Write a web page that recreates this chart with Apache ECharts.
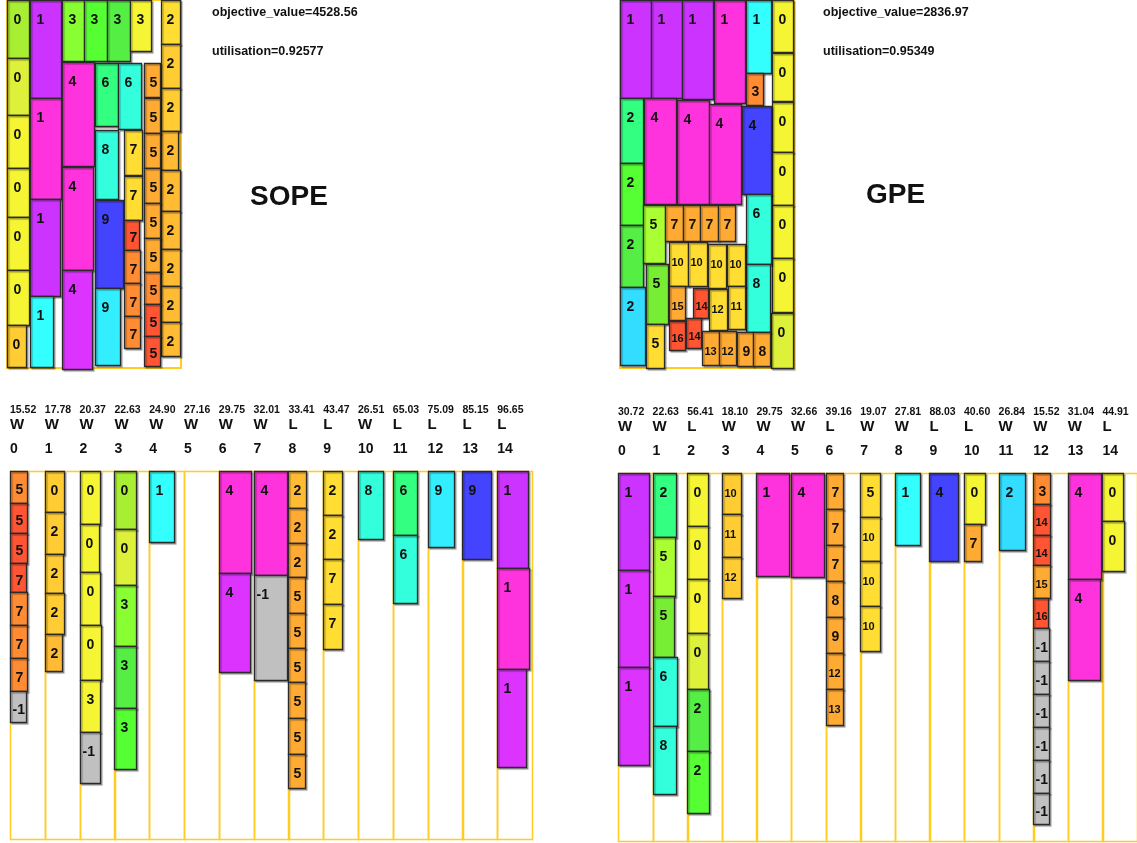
<!DOCTYPE html>
<html>
<head>
<meta charset="utf-8">
<script src="https://cdn.jsdelivr.net/npm/echarts@6/dist/echarts.min.js"></script>
<style>
html,body{margin:0;padding:0;background:#fff;}
#chart{width:1137px;height:843px;}
</style>
</head>
<body>
<div id="chart"></div>
<script>
// ---------- solution summaries ----------
const sopeStats = ['objective_value=4528.56', 'utilisation=0.92577'];
const gpeStats  = ['objective_value=2836.97', 'utilisation=0.95349'];
const methodNames = ['SOPE', 'GPE'];

// ---------- bin size (layout units) ----------
const binW = 174;
const binH = 368;

// ---------- packed items: [x, y, width, height, item id, colour key] ----------
const sopeBoxes = [
  [0,0,22,58,'0','lime'], [0,58,22,57,'0','chart'], [0,115,22,53,'0','yellow'],
  [0,168,22,49,'0','yellow'], [0,217,22,53,'0','yellow'], [0,270,22,55,'0','yellow'],
  [0,325,19,42,'0','amber'],
  [23,0,31,98,'1','purple'], [23,98,31,101,'1','magenta'], [23,199,30,97,'1','purple'],
  [23,296,23,71,'1','cyan'],
  [55,0,22,61,'3','green1'], [77,0,23,61,'3','green2'], [100,0,23,61,'3','green3'],
  [123,0,21,51,'3','yellow'],
  [154,0,19,44,'2','gold'], [154,44,19,44,'2','amber'], [154,88,19,43,'2','amber'],
  [154,131,17,39,'2','tang'], [154,170,19,41,'2','tang'], [154,211,19,38,'2','tang'],
  [154,249,19,37,'2','tang'], [154,286,19,36,'2','tang'], [154,322,19,34,'2','tang'],
  [55,62,32,104,'4','magenta'], [55,167,31,103,'4','magenta'], [55,270,30,99,'4','violet'],
  [88,63,23,63,'6','mint'], [111,63,23,66,'6','aqua'],
  [88,130,23,69,'8','aqua'],
  [88,200,28,88,'9','blue'], [88,288,25,77,'9','sky'],
  [117,130,18,45,'7','gold'], [117,176,18,44,'7','gold'], [117,220,15,30,'7','red'],
  [117,250,16,33,'7','dorange'], [117,283,16,33,'7','dorange'], [117,316,16,32,'7','dorange'],
  [137,63,16,34,'5','orange'], [137,98,16,35,'5','orange'], [137,133,16,35,'5','orange'],
  [137,168,16,35,'5','orange'], [137,203,16,35,'5','orange'], [137,238,16,34,'5','orange'],
  [137,272,16,32,'5','dorange'], [137,304,16,32,'5','red'], [137,336,16,30,'5','red']
];

const gpeBoxes = [
  [0,0,31,98,'1','purple'], [31,0,31,98,'1','purple'], [62,0,31,99,'1','purple'],
  [94,0,31,103,'1','magenta'], [126,0,25,73,'1','cyan'], [126,73,17,32,'3','dorange'],
  [152,0,21,52,'0','yellow'], [152,53,21,48,'0','yellow'], [152,102,21,50,'0','yellow'],
  [152,152,21,53,'0','yellow'], [152,205,21,53,'0','yellow'], [152,258,21,54,'0','yellow'],
  [151,313,22,55,'0','chart'],
  [0,98,23,65,'2','mint'], [0,163,23,62,'2','green2'], [0,225,23,62,'2','green3'],
  [0,287,25,78,'2','azure'],
  [24,98,32,106,'4','magenta'], [57,100,32,104,'4','magenta'], [89,104,32,100,'4','magenta'],
  [122,106,29,88,'4','blue'],
  [23,205,22,58,'5','limeg'], [26,264,22,60,'5','grass'], [26,324,18,44,'5','gold'],
  [45,205,18,36,'7','orange'], [63,205,17,36,'7','orange'], [80,205,18,36,'7','orange'],
  [98,205,17,36,'7','orange'],
  [126,194,25,70,'6','aqua'], [126,264,24,68,'8','aqua'],
  [49,242,19,44,'10','gold'], [68,242,19,44,'10','gold'], [88,244,18,44,'10','gold'],
  [107,244,18,42,'10','gold'],
  [49,286,16,34,'15','orange'], [73,288,15,30,'14','red'], [89,289,18,41,'12','gold'],
  [108,286,17,43,'11','gold'],
  [49,321,16,29,'16','red'], [66,318,15,30,'14','red'],
  [82,331,17,34,'13','orange'], [99,331,17,34,'12','orange'],
  [117,332,16,34,'9','orange'], [133,332,17,34,'8','orange']
];

// ---------- per-machine sequences: [item id, height, width, colour key] ----------
const sopeStacks = [
  [['5',32,17,'dorange'],['5',30,17,'red'],['5',30,17,'red'],['7',29,16,'red'],
   ['7',33,17,'dorange'],['7',33,17,'dorange'],['7',33,17,'dorange'],['-1',31,16,'grey']],
  [['0',41,19,'amber'],['2',42,19,'amber'],['2',39,18,'amber'],['2',41,19,'amber'],['2',37,17,'tang']],
  [['0',53,20,'yellow'],['0',48,19,'yellow'],['0',53,20,'yellow'],['0',55,21,'yellow'],
   ['3',52,20,'yellow'],['-1',51,20,'grey']],
  [['0',58,22,'lime'],['0',56,22,'chart'],['3',61,22,'green1'],['3',62,22,'green3'],['3',61,22,'green2']],
  [['1',71,25,'cyan']],
  [],
  [['4',102,32,'magenta'],['4',99,31,'violet']],
  [['4',104,33,'magenta'],['-1',105,33,'grey']],
  [['2',37,18,'tang'],['2',35,18,'orange'],['2',34,18,'orange'],['5',36,17,'orange'],
   ['5',35,17,'orange'],['5',34,17,'orange'],['5',36,17,'orange'],['5',36,17,'orange'],['5',34,17,'orange']],
  [['2',44,19,'gold'],['2',44,19,'gold'],['7',45,19,'gold'],['7',45,19,'gold']],
  [['8',68,25,'aqua']],
  [['6',64,24,'mint'],['6',68,24,'aqua']],
  [['9',76,26,'sky']],
  [['9',88,29,'blue']],
  [['1',97,31,'purple'],['1',101,32,'magenta'],['1',98,29,'violet']]
];

const gpeStacks = [
  [['1',97,31,'purple'],['1',97,31,'violet'],['1',98,31,'violet']],
  [['2',64,23,'mint'],['5',59,22,'limeg'],['5',61,21,'grass'],['6',69,24,'aqua'],['8',68,23,'aqua']],
  [['0',53,21,'yellow'],['0',53,21,'yellow'],['0',54,21,'yellow'],['0',56,21,'chart'],
   ['2',62,22,'green3'],['2',62,22,'green2']],
  [['10',41,19,'amber'],['11',43,19,'amber'],['12',41,19,'amber']],
  [['1',103,33,'magenta']],
  [['4',104,33,'magenta']],
  [['7',36,17,'orange'],['7',36,17,'orange'],['7',36,17,'orange'],['8',36,17,'orange'],
   ['9',36,17,'orange'],['12',36,17,'orange'],['13',36,17,'orange']],
  [['5',44,20,'gold'],['10',44,20,'gold'],['10',45,20,'gold'],['10',45,20,'gold']],
  [['1',72,25,'cyan']],
  [['4',88,29,'blue']],
  [['0',51,21,'yellow'],['7',37,17,'orange']],
  [['2',77,26,'azure']],
  [['3',31,17,'dorange'],['14',31,17,'red'],['14',30,17,'red'],['15',33,17,'orange'],
   ['16',30,15,'red'],['-1',33,16,'grey'],['-1',33,16,'grey'],['-1',33,16,'grey'],
   ['-1',33,16,'grey'],['-1',33,16,'grey'],['-1',31,16,'grey']],
  [['4',106,33,'magenta'],['4',101,32,'magenta']],
  [['0',48,21,'yellow'],['0',50,22,'yellow']]
];

// ---------- machine headers ----------
const sopeTimes = ['15.52','17.78','20.37','22.63','24.90','27.16','29.75','32.01','33.41','43.47','26.51','65.03','75.09','85.15','96.65'];
const sopeFlags = ['W','W','W','W','W','W','W','W','L','L','W','L','L','L','L'];
const gpeTimes  = ['30.72','22.63','56.41','18.10','29.75','32.66','39.16','19.07','27.81','88.03','40.60','26.84','15.52','31.04','44.91'];
const gpeFlags  = ['W','W','L','W','W','W','L','W','W','L','L','W','W','W','L'];

// ---------- styling ----------
const palette = {
  lime:'#a8ee33', chart:'#ddf03a', yellow:'#f5f533', amber:'#ffcc33', gold:'#ffdd33',
  tang:'#ffbb33', orange:'#ffaa33', dorange:'#ff8c33', red:'#ff5533',
  purple:'#cc33ff', violet:'#dd33ff', magenta:'#ff33dd',
  cyan:'#33ffff', sky:'#33eeff', azure:'#33ddff', aqua:'#33ffdd', mint:'#33ff80',
  green1:'#88ff33', green2:'#55ff33', green3:'#55ee44', limeg:'#aaff33', grass:'#77ee33',
  blue:'#4444ff', grey:'#c0c0c0'
};
const FONT = '"Liberation Sans", Arial, sans-serif';
const frameColor = '#ffcc22';
const colW = 34.8;           // width of one machine column, in layout units
const nCols = sopeTimes.length;

// flatten a set of machine sequences into boxes stacked from the top of each column
function stackBoxes(stacks) {
  const out = [];
  stacks.forEach((col, i) => {
    let y = 0;
    col.forEach(([id, h, w, key]) => {
      out.push([i * colW, y, w, h, id, key]);
      y += h;
    });
  });
  return out;
}

function boxSeries(gridIdx, boxes) {
  return {
    type: 'custom', xAxisIndex: gridIdx, yAxisIndex: gridIdx, z: 3,
    data: boxes.map(b => [b[0], b[1], b[2], b[3]]),
    renderItem: (params, api) => {
      const b = boxes[params.dataIndex];
      const p0 = api.coord([b[0], b[1]]);
      const p1 = api.coord([b[0] + b[2], b[1] + b[3]]);
      const x = Math.round(p0[0]) + 0.5, y = Math.round(p0[1]) + 0.5;
      const w = Math.round(p1[0] - p0[0]), h = Math.round(p1[1] - p0[1]);
      const id = b[4];
      const small = id.length > 1 && id !== '-1';
      const tx = x + (small || id === '-1' ? 2 : (w < 20 ? 5 : 6));
      const ty = y + Math.min(20, h / 2 + 3);
      return {
        type: 'group',
        children: [
          { type: 'rect', shape: { x, y, width: w, height: h },
            style: { fill: palette[b[5]], stroke: '#2a2a2a', lineWidth: 1.3,
                     shadowColor: 'rgba(0,0,0,0.28)', shadowOffsetX: 1.5, shadowOffsetY: 1.5, shadowBlur: 1 } },
          { type: 'text', x: tx, y: ty,
            style: { text: id, fill: '#111', font: 'bold ' + (small ? 11 : 14) + 'px ' + FONT,
                     textAlign: 'left', textVerticalAlign: 'middle', align: 'left', verticalAlign: 'middle' } }
        ]
      };
    }
  };
}

function binFrameSeries(gridIdx) {
  return {
    type: 'custom', xAxisIndex: gridIdx, yAxisIndex: gridIdx, z: 1, silent: true,
    data: [[0, 0]],
    renderItem: (params, api) => {
      const p0 = api.coord([0, 0]), p1 = api.coord([binW, binH]);
      return { type: 'rect', shape: { x: p0[0], y: p0[1], width: p1[0] - p0[0], height: p1[1] - p0[1] },
               style: { fill: 'none', stroke: frameColor, lineWidth: 2 } };
    }
  };
}

function columnFrameSeries(gridIdx) {
  const idx = Array.from({ length: nCols }, (_, i) => i);
  return {
    type: 'custom', xAxisIndex: gridIdx, yAxisIndex: gridIdx, z: 1, silent: true,
    data: idx.map(i => [i * colW, 0]),
    renderItem: (params, api) => {
      const i = params.dataIndex;
      const p0 = api.coord([i * colW, 0]), p1 = api.coord([(i + 1) * colW, binH]);
      return { type: 'rect', shape: { x: Math.round(p0[0]) + 0.5, y: Math.round(p0[1]) + 0.5,
                                      width: Math.round(p1[0] - p0[0]), height: Math.round(p1[1] - p0[1]) },
               style: { fill: 'none', stroke: frameColor, lineWidth: 1.5 } };
    }
  };
}

function headerSeries(gridIdx, times, flags) {
  return {
    type: 'custom', xAxisIndex: gridIdx, yAxisIndex: gridIdx, z: 2, silent: true,
    data: times.map((t, i) => [i * colW, 0]),
    renderItem: (params, api) => {
      const i = params.dataIndex;
      const p = api.coord([i * colW, 0]);
      const mk = (text, dy, size) => ({
        type: 'text', x: p[0], y: p[1] + dy,
        style: { text, fill: '#111', font: 'bold ' + size + 'px ' + FONT,
                 textAlign: 'left', textVerticalAlign: 'middle', align: 'left', verticalAlign: 'middle' }
      });
      return { type: 'group', children: [
        mk(times[i], -61, 10.5), mk(flags[i], -46, 15), mk(String(i), -22, 14)
      ] };
    }
  };
}

const grids = [
  { left: 7,   top: 0,   width: binW, height: binH },
  { left: 620, top: 0,   width: binW, height: binH },
  { left: 10,  top: 471, width: nCols * colW, height: binH - 1 },
  { left: 618, top: 473, width: nCols * colW, height: binH - 1 }
];
const xMax = [binW, binW, nCols * colW, nCols * colW];

const statTitle = (text, left, top) => ({
  text, left, top, padding: 0,
  textStyle: { fontFamily: FONT, fontWeight: 'bold', fontSize: 12.5, color: '#111' }
});

const option = {
  backgroundColor: '#fff',
  animation: false,
  title: [
    statTitle(sopeStats[0], 212, 6), statTitle(sopeStats[1], 212, 45),
    statTitle(gpeStats[0], 823, 6),  statTitle(gpeStats[1], 823, 45),
    { text: methodNames[0], left: 250, top: 183, padding: 0,
      textStyle: { fontFamily: FONT, fontWeight: 'bold', fontSize: 28, color: '#111' } },
    { text: methodNames[1], left: 866, top: 181, padding: 0,
      textStyle: { fontFamily: FONT, fontWeight: 'bold', fontSize: 28, color: '#111' } }
  ],
  grid: grids,
  xAxis: grids.map((g, i) => ({ type: 'value', gridIndex: i, min: 0, max: xMax[i], show: false })),
  yAxis: grids.map((g, i) => ({ type: 'value', gridIndex: i, min: 0, max: i < 2 ? binH : binH - 1, inverse: true, show: false })),
  series: [
    binFrameSeries(0), boxSeries(0, sopeBoxes),
    binFrameSeries(1), boxSeries(1, gpeBoxes),
    columnFrameSeries(2), headerSeries(2, sopeTimes, sopeFlags), boxSeries(2, stackBoxes(sopeStacks)),
    columnFrameSeries(3), headerSeries(3, gpeTimes, gpeFlags), boxSeries(3, stackBoxes(gpeStacks))
  ]
};

const chart = echarts.init(document.getElementById('chart'), null, { renderer: 'canvas' });
chart.setOption(option);
</script>
</body>
</html>
